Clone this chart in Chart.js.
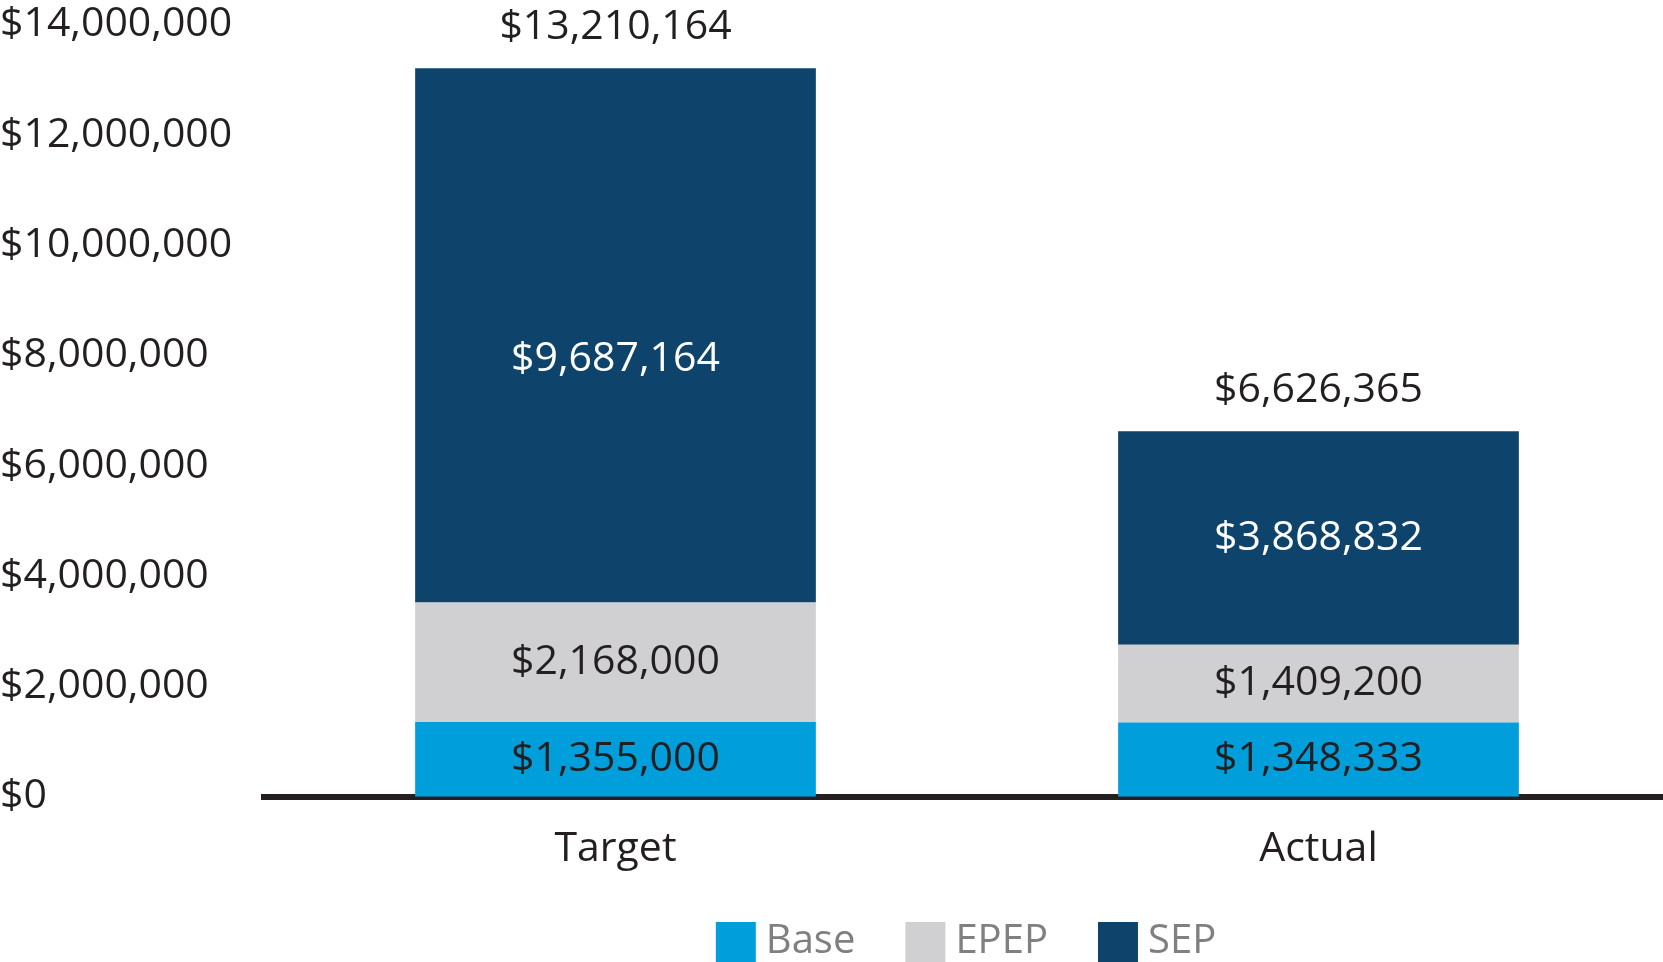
<!DOCTYPE html>
<html>
<head>
<meta charset="utf-8">
<script src="https://cdn.jsdelivr.net/npm/chart.js@4.4.0/dist/chart.umd.min.js"></script>
<style>
  html, body { margin: 0; padding: 0; background: #fff; overflow: hidden; }
  #wrap { width: 1670px; height: 962px; }
</style>
</head>
<body>
<div id="wrap"><canvas id="payChart"></canvas></div>
<script>
var categories = ["Target", "Actual"];
var baseValues = [1355000, 1348333];
var epepValues = [2168000, 1409200];
var sepValues = [9687164, 3868832];
var totalValues = [13210164, 6626365];
var yTicks = [0, 2000000, 4000000, 6000000, 8000000, 10000000, 12000000, 14000000];

var textDark = "#231f20";

function money(v) {
    return "$" + Number(v).toLocaleString("en-US");
}

// draws the values inside each segment and the totals on top
var valueLabels = {
    id: "valueLabels",
    afterDatasetsDraw: function (chart, args, opts) {
        var ctx = chart.ctx;
        var nudge = opts.nudge || {};
        ctx.save();
        ctx.font = "41px 'Open Sans'";
        ctx.textAlign = "center";
        ctx.textBaseline = "middle";
        chart.data.datasets.forEach(function (ds, i) {
            var meta = chart.getDatasetMeta(i);
            meta.data.forEach(function (bar, j) {
                var dy = nudge[i + "-" + j] || 0;
                ctx.fillStyle = ds.labelColor;
                ctx.fillText(money(ds.data[j]), bar.x, (bar.y + bar.base) / 2 + dy);
            });
        });
        var yScale = chart.scales.y;
        var topMeta = chart.getDatasetMeta(2);
        ctx.fillStyle = textDark;
        topMeta.data.forEach(function (bar, j) {
            ctx.fillText(money(totalValues[j]), bar.x, yScale.getPixelForValue(totalValues[j]) - 41);
        });
        ctx.restore();
    }
};

// legend keeps its wide item spacing but takes less height from the plot
var legendTuck = {
    id: "legendTuck",
    beforeLayout: function (chart) {
        var lg = chart.legend;
        if (lg && !lg._tucked) {
            var fit = lg.fit;
            lg.fit = function () { fit.call(this); this.height -= 32; };
            lg._tucked = true;
        }
    },
    afterLayout: function (chart) {
        var lg = chart.legend;
        lg.top -= 32;
        lg.height = lg.bottom - lg.top;
        lg.left += 4; lg.right += 4;
    }
};

new Chart("payChart", {
    type: "bar",
    data: {
        labels: categories,
        datasets: [
            { label: "Base", data: baseValues, backgroundColor: "#009fdb", labelColor: textDark },
            { label: "EPEP", data: epepValues, backgroundColor: "#d0d0d2", labelColor: textDark },
            { label: "SEP", data: sepValues, backgroundColor: "#0e436b", labelColor: "#ffffff" }
        ]
    },
    plugins: [valueLabels, legendTuck],
    options: {
        responsive: true,
        maintainAspectRatio: false,
        animation: false,
        layout: { padding: { top: 0, right: 0, left: 0, bottom: -10 } },
        datasets: {
            bar: { categoryPercentage: 1, barPercentage: 0.57 }
        },
        scales: {
            x: {
                stacked: true,
                grid: { display: false },
                border: { display: true, color: textDark, width: 6 },
                ticks: {
                    color: textDark,
                    padding: 20,
                    font: { family: "Open Sans", size: 41 }
                }
            },
            y: {
                stacked: true,
                min: 0,
                max: 14000000,
                grid: { display: false },
                border: { display: false },
                afterBuildTicks: function (scale) {
                    scale.ticks = yTicks.map(function (v) { return { value: v }; });
                },
                afterFit: function (scale) { scale.width = 264; },
                ticks: {
                    crossAlign: "far",
                    padding: 0,
                    color: textDark,
                    font: { family: "Open Sans", size: 41 },
                    callback: function (v) { return money(v); }
                }
            }
        },
        plugins: {
            tooltip: { enabled: false },
            valueLabels: { nudge: { "2-0": 24 } },
            legend: {
                position: "bottom",
                fullSize: false,
                labels: {
                    boxWidth: 20,
                    boxHeight: 20,
                    padding: 60,
                    color: "#808080",
                    font: { family: "Open Sans", size: 40 },
                    // thick stroke in the fill colour so the square is 40px wide with a tight gap to the text
                    generateLabels: function (chart) {
                        var items = Chart.defaults.plugins.legend.labels.generateLabels(chart);
                        items.forEach(function (it) {
                            it.lineWidth = 20;
                            it.strokeStyle = it.fillStyle;
                            it.lineJoin = "miter";
                        });
                        return items;
                    }
                }
            }
        }
    }
});
</script>
</body>
</html>
